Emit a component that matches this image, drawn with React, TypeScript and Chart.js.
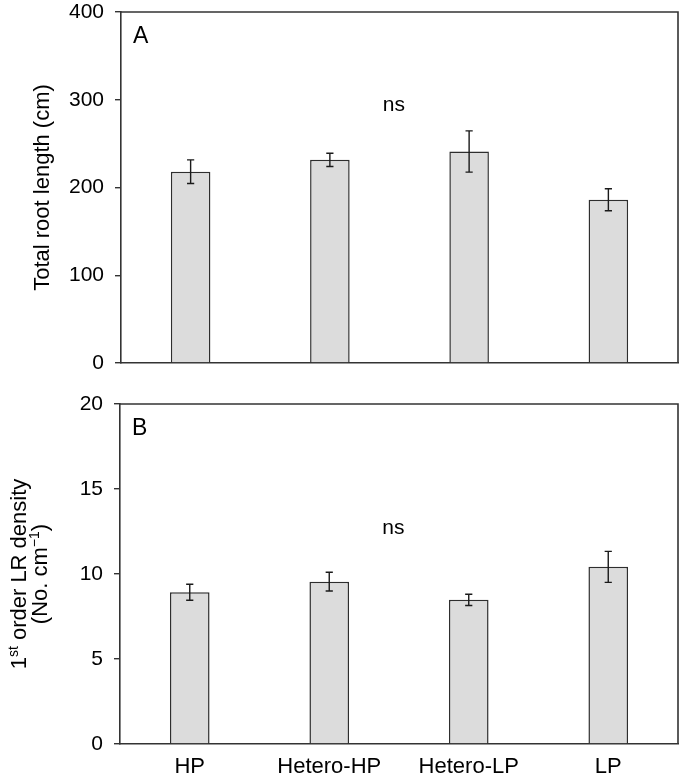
import React, { useEffect, useRef } from 'react';
import { Chart, registerables } from 'chart.js';

Chart.register(...registerables);

// ---- Data ----
const categories = ['HP', 'Hetero-HP', 'Hetero-LP', 'LP'];
const rootLength = [218, 231.5, 241, 186];
const rootLengthSE = [13.5, 7.5, 23.5, 12.5];
const lrDensity = [8.93, 9.55, 8.48, 10.42];
const lrDensitySE = [0.47, 0.55, 0.33, 0.91];
const rootLengthTicks = [0, 100, 200, 300, 400];
const lrDensityTicks = [0, 5, 10, 15, 20];
const panelLabels = ['A', 'B'];
const sigText = 'ns';
const sigPosA = { idx: 1.46, value: 294 };
const sigPosB = { idx: 1.46, value: 12.67 };

const FONT = '"Liberation Sans", Arial, Helvetica, sans-serif';
const AXIS_COLOR = '#333333';

type Run = { text: string; sup?: boolean };
const titleA: Run[][] = [[{ text: 'Total root length (cm)' }]];
const titleB: Run[][] = [
  [{ text: '1' }, { text: 'st', sup: true }, { text: ' order LR density' }],
  [{ text: '(No. cm' }, { text: '\u22121', sup: true }, { text: ')' }],
];

function drawRotatedTitle(ctx: CanvasRenderingContext2D, lines: Run[][], baselines: number[], yCenter: number, size: number) {
  const supSize = Math.round(size * 0.62);
  lines.forEach((runs, li) => {
    let total = 0;
    const widths = runs.map((r) => {
      ctx.font = `${r.sup ? supSize : size}px ${FONT}`;
      const w = ctx.measureText(r.text).width;
      total += w;
      return w;
    });
    ctx.save();
    ctx.translate(baselines[li], yCenter);
    ctx.rotate(-Math.PI / 2);
    ctx.fillStyle = '#000';
    ctx.textBaseline = 'alphabetic';
    ctx.textAlign = 'left';
    let x = -total / 2;
    runs.forEach((r, i) => {
      ctx.font = `${r.sup ? supSize : size}px ${FONT}`;
      ctx.fillText(r.text, x, r.sup ? -size * 0.38 : 0);
      x += widths[i];
    });
    ctx.restore();
  });
}

function makeConfig(opts: {
  values: number[];
  se: number[];
  ticks: number[];
  label: string;
  sig: { idx: number; value: number };
  title: Run[][];
  titleBaselines: number[];
  showX: boolean;
  yWidth: number;
  xHeight: number;
  padTop: number;
}) {
  const plugin = {
    id: 'extras',
    afterDatasetsDraw(chart: any) {
      const { ctx, chartArea, scales } = chart;
      const x = scales.x;
      const y = scales.y;
      ctx.save();
      // error bars
      ctx.strokeStyle = '#1a1a1a';
      ctx.lineWidth = 1.4;
      opts.values.forEach((v, i) => {
        const px = x.getPixelForValue(i);
        const top = y.getPixelForValue(v + opts.se[i]);
        const bot = y.getPixelForValue(v - opts.se[i]);
        const cap = 3.6;
        ctx.beginPath();
        ctx.moveTo(px, top);
        ctx.lineTo(px, bot);
        ctx.moveTo(px - cap, top);
        ctx.lineTo(px + cap, top);
        ctx.moveTo(px - cap, bot);
        ctx.lineTo(px + cap, bot);
        ctx.stroke();
      });
      // box top/right
      ctx.strokeStyle = AXIS_COLOR;
      ctx.lineWidth = 1.6;
      ctx.beginPath();
      ctx.moveTo(chartArea.left, chartArea.top);
      ctx.lineTo(chartArea.right, chartArea.top);
      ctx.lineTo(chartArea.right, chartArea.bottom);
      ctx.stroke();
      // panel label
      ctx.fillStyle = '#000';
      ctx.font = `23px ${FONT}`;
      ctx.textAlign = 'left';
      ctx.textBaseline = 'alphabetic';
      ctx.fillText(opts.label, chartArea.left + 12, chartArea.top + 31);
      // ns
      const p1 = x.getPixelForValue(1);
      const p2 = x.getPixelForValue(2);
      const nx = p1 + (opts.sig.idx - 1) * (p2 - p1);
      ctx.font = `21px ${FONT}`;
      ctx.textAlign = 'center';
      ctx.textBaseline = 'middle';
      ctx.fillText(sigText, nx, y.getPixelForValue(opts.sig.value));
      // y title
      drawRotatedTitle(ctx, opts.title, opts.titleBaselines, (chartArea.top + chartArea.bottom) / 2, 22);
      ctx.restore();
    },
  };

  return {
    type: 'bar' as const,
    data: {
      labels: categories,
      datasets: [
        {
          data: opts.values,
          backgroundColor: '#dcdcdc',
          borderColor: '#2e2e2e',
          borderWidth: 1.5,
          barPercentage: 0.284,
          categoryPercentage: 1,
        },
      ],
    },
    options: {
      responsive: false,
      animation: false as const,
      devicePixelRatio: 1,
      layout: { padding: { left: 0, right: 4, top: opts.padTop, bottom: 0 } },
      plugins: { legend: { display: false }, tooltip: { enabled: false }, title: { display: false } },
      scales: {
        x: {
          type: 'category' as const,
          grid: { display: false },
          border: { display: true, color: AXIS_COLOR, width: 1.6 },
          ticks: {
            display: opts.showX,
            color: '#000',
            padding: 2,
            maxRotation: 0,
            autoSkip: false,
            font: { family: FONT, size: 22 },
          },
          afterFit: (s: any) => {
            s.height = opts.xHeight;
            s.paddingLeft = 0;
            s.paddingRight = 0;
          },
        },
        y: {
          min: opts.ticks[0],
          max: opts.ticks[opts.ticks.length - 1],
          grid: { display: true, drawOnChartArea: false, drawTicks: true, tickLength: 6, color: AXIS_COLOR, lineWidth: 1.4 },
          border: { display: true, color: AXIS_COLOR, width: 1.6 },
          ticks: {
            stepSize: opts.ticks[1] - opts.ticks[0],
            color: '#000',
            padding: 11,
            font: { family: FONT, size: 21, lineHeight: 1 },
          },
          afterFit: (s: any) => {
            s.width = opts.yWidth;
            s.paddingTop = 0;
            s.paddingBottom = 0;
          },
        },
      },
    },
    plugins: [plugin],
  };
}

export default function App() {
  const refA = useRef<HTMLCanvasElement>(null);
  const refB = useRef<HTMLCanvasElement>(null);

  useEffect(() => {
    const chartA = new Chart(
      refA.current as HTMLCanvasElement,
      makeConfig({
        values: rootLength,
        se: rootLengthSE,
        ticks: rootLengthTicks,
        label: panelLabels[0],
        sig: sigPosA,
        title: titleA,
        titleBaselines: [49],
        showX: false,
        yWidth: 121,
        xHeight: 22,
        padTop: 12,
      }) as any
    );
    const chartB = new Chart(
      refB.current as HTMLCanvasElement,
      makeConfig({
        values: lrDensity,
        se: lrDensitySE,
        ticks: lrDensityTicks,
        label: panelLabels[1],
        sig: sigPosB,
        title: titleB,
        titleBaselines: [26, 47],
        showX: true,
        yWidth: 120,
        xHeight: 32,
        padTop: 19,
      }) as any
    );
    return () => {
      chartA.destroy();
      chartB.destroy();
    };
  }, []);

  return (
    <div style={{ position: 'absolute', left: 0, top: 0, width: 682, height: 776, background: '#fff' }}>
      <canvas ref={refA} width={682} height={385} style={{ display: 'block', width: 682, height: 385 }} />
      <canvas ref={refB} width={682} height={391} style={{ display: 'block', width: 682, height: 391 }} />
    </div>
  );
}
